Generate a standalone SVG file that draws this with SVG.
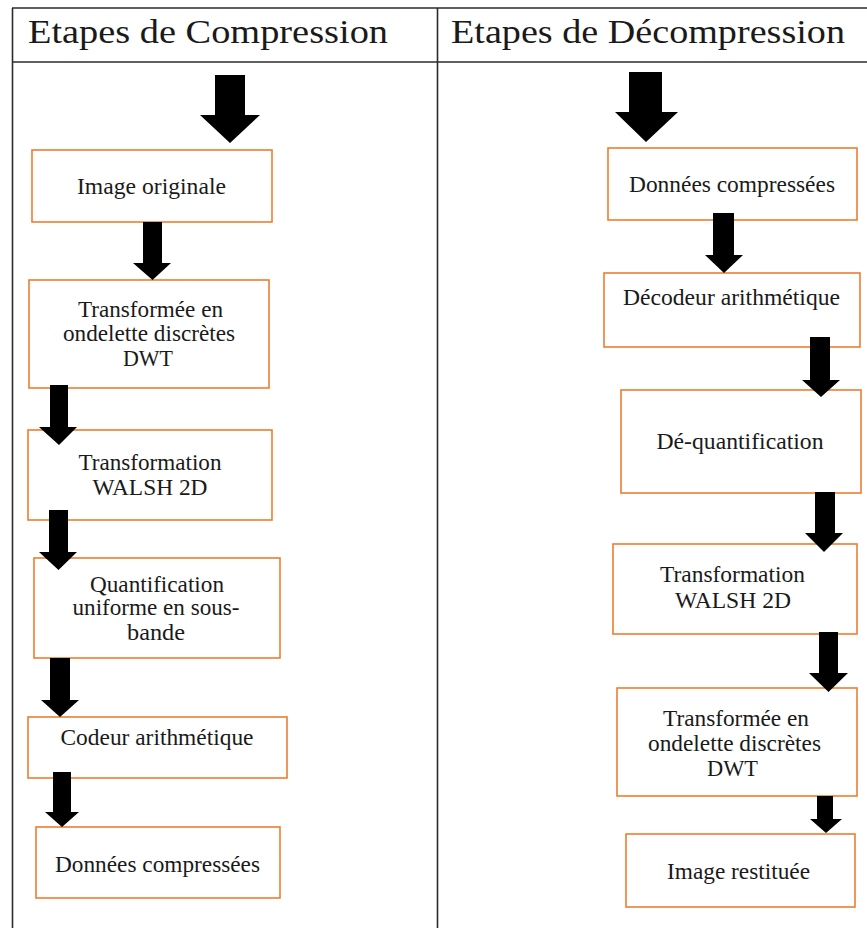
<svg xmlns="http://www.w3.org/2000/svg" width="867" height="928" viewBox="0 0 867 928">
<style>
.tbl{stroke:#2b2b2b;stroke-width:1.6;fill:none}
.box{fill:#fff;stroke:#ED7D31;stroke-width:1.6}
.hd{font-family:"Liberation Serif","Times New Roman",serif;font-size:33px;fill:#1a1a1a}
.t{font-family:"Liberation Serif","Times New Roman",serif;font-size:23px;fill:#1a1a1a;text-anchor:middle}
.arr{fill:#000}
</style>
<rect x="0" y="0" width="867" height="928" fill="#fff"/>
<g id="table">
<line class="tbl" x1="12" y1="8" x2="867" y2="8"/>
<line class="tbl" x1="12" y1="62" x2="867" y2="62"/>
<line class="tbl" x1="12.5" y1="8" x2="12.5" y2="928"/>
<line class="tbl" x1="437.5" y1="8" x2="437.5" y2="928"/>
<text class="hd" x="28" y="43" textLength="360" lengthAdjust="spacingAndGlyphs">Etapes de Compression</text>
<text class="hd" x="451" y="43" textLength="394" lengthAdjust="spacingAndGlyphs">Etapes de Décompression</text>
</g>
<g id="c1">
<rect class="box" x="32" y="150" width="240" height="72"/>
<text class="t" x="151.5" y="194" textLength="149" lengthAdjust="spacingAndGlyphs">Image originale</text>
</g>
<g id="c2">
<rect class="box" x="29" y="280" width="240" height="108"/>
<text class="t" x="150.5" y="317" textLength="145" lengthAdjust="spacingAndGlyphs">Transformée en</text>
<text class="t" x="149" y="341" textLength="172" lengthAdjust="spacingAndGlyphs">ondelette discrètes</text>
<text class="t" x="148" y="366" textLength="50" lengthAdjust="spacingAndGlyphs">DWT</text>
</g>
<g id="c3">
<rect class="box" x="28" y="430" width="244" height="90"/>
<text class="t" x="150" y="470" textLength="143" lengthAdjust="spacingAndGlyphs">Transformation</text>
<text class="t" x="150" y="495" textLength="115" lengthAdjust="spacingAndGlyphs">WALSH 2D</text>
</g>
<g id="c4">
<rect class="box" x="34" y="558" width="246" height="100"/>
<text class="t" x="157" y="592" textLength="134" lengthAdjust="spacingAndGlyphs">Quantification</text>
<text class="t" x="156" y="615" textLength="167" lengthAdjust="spacingAndGlyphs">uniforme en sous-</text>
<text class="t" x="156" y="640" textLength="58" lengthAdjust="spacingAndGlyphs">bande</text>
</g>
<g id="c5">
<rect class="box" x="28" y="717" width="259" height="61"/>
<text class="t" x="157" y="745" textLength="193" lengthAdjust="spacingAndGlyphs">Codeur arithmétique</text>
</g>
<g id="c6">
<rect class="box" x="36" y="827" width="244" height="71"/>
<text class="t" x="157.5" y="872" textLength="205" lengthAdjust="spacingAndGlyphs">Données compressées</text>
</g>
<g id="d1">
<rect class="box" x="608" y="148" width="249" height="72"/>
<text class="t" x="732" y="192" textLength="206" lengthAdjust="spacingAndGlyphs">Données compressées</text>
</g>
<g id="d2">
<rect class="box" x="604" y="273" width="256" height="74"/>
<text class="t" x="731.5" y="305" textLength="217" lengthAdjust="spacingAndGlyphs">Décodeur arithmétique</text>
</g>
<g id="d3">
<rect class="box" x="621" y="390" width="240" height="103"/>
<text class="t" x="740" y="449" textLength="167" lengthAdjust="spacingAndGlyphs">Dé-quantification</text>
</g>
<g id="d4">
<rect class="box" x="613" y="544" width="244" height="90"/>
<text class="t" x="732.5" y="582" textLength="145" lengthAdjust="spacingAndGlyphs">Transformation</text>
<text class="t" x="733" y="608" textLength="116" lengthAdjust="spacingAndGlyphs">WALSH 2D</text>
</g>
<g id="d5">
<rect class="box" x="617" y="688" width="240" height="108"/>
<text class="t" x="736" y="726" textLength="146" lengthAdjust="spacingAndGlyphs">Transformée en</text>
<text class="t" x="734.5" y="751" textLength="173" lengthAdjust="spacingAndGlyphs">ondelette discrètes</text>
<text class="t" x="732.5" y="776" textLength="51" lengthAdjust="spacingAndGlyphs">DWT</text>
</g>
<g id="d6">
<rect class="box" x="626" y="834" width="229" height="73"/>
<text class="t" x="738.5" y="879" textLength="143" lengthAdjust="spacingAndGlyphs">Image restituée</text>
</g>
<g id="connectors">
<polygon class="arr" points="215,75 245,75 245,115 260,115 230,143 200,115 215,115"/>
<polygon class="arr" points="143,222 162,222 162,263 171,263 152.5,280 133,263 143,263"/>
<polygon class="arr" points="50,385 68,385 68,427 77,427 59,445 39,427 50,427"/>
<polygon class="arr" points="49,510 68,510 68,552 77,552 58.5,570 39,552 49,552"/>
<polygon class="arr" points="50,658 70,658 70,700 79,700 60,717 41,700 50,700"/>
<polygon class="arr" points="53,772 71,772 71,812 79,812 62,827 45,812 53,812"/>
<polygon class="arr" points="629,72 662,72 662,112 678,112 646,142 615,112 629,112"/>
<polygon class="arr" points="713,213 734,213 734,255 743,255 724,273 705,255 713,255"/>
<polygon class="arr" points="810,337 830,337 830,380 840,380 821,397 802,380 810,380"/>
<polygon class="arr" points="815,492 835,492 835,533 843,533 824,552 805,533 815,533"/>
<polygon class="arr" points="819,632 838,632 838,673 848,673 828.5,692 809,673 819,673"/>
<polygon class="arr" points="817,796 833,796 833,819 842,819 826,833 810,819 817,819"/>
</g>
</svg>
